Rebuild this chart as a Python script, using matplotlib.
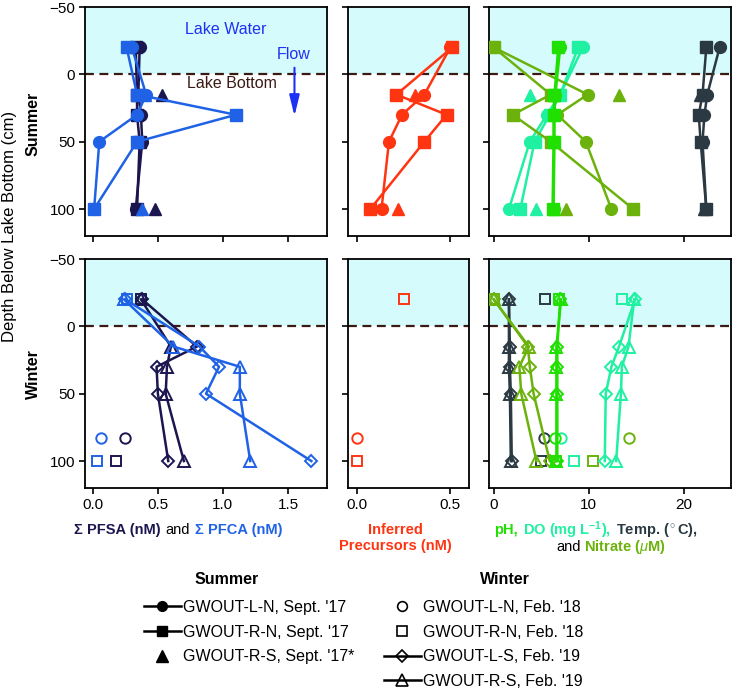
import matplotlib
matplotlib.use('Agg')
import matplotlib.pyplot as plt
from matplotlib.lines import Line2D

plt.rcParams['font.family'] = ['Liberation Sans', 'DejaVu Sans']
plt.rcParams['mathtext.fontset'] = 'custom'
plt.rcParams['mathtext.rm'] = 'Liberation Sans'
plt.rcParams['mathtext.it'] = 'Liberation Sans:italic'
plt.rcParams['mathtext.bf'] = 'Liberation Sans:bold'

# depths (cm below lake bottom; negative = in lake water)
depth_profile = [-20, 15, 30, 50, 100]
depth_summer_rs = [15, 100]
depth_winter_ln = [83]
depth_winter_rn = [-20, 100]

# ---- Summer (Sept. '17) ----
pfsa_s_ln = [0.36, 0.35, 0.37, 0.38, 0.33]
pfsa_s_rn = [0.33, 0.34, 0.34, 0.36, 0.34]
pfsa_s_rs = [0.53, 0.48]
pfca_s_ln = [0.30, 0.41, 0.34, 0.05, 0.01]
pfca_s_rn = [0.26, 0.34, 1.10, 0.34, 0.01]
pfca_s_rs = [0.40, 0.38]
prec_s_ln = [0.50, 0.36, 0.24, 0.17, 0.13]
prec_s_rn = [0.51, 0.21, 0.48, 0.36, 0.07]
prec_s_rs = [0.31, 0.22]
ph_s_ln = [7.0, 6.5, 6.4, 6.4, 6.3]
ph_s_rn = [6.8, 6.4, 6.3, 6.3, 6.2]
ph_s_rs = [6.3, 6.4]
do_s_ln = [9.4, 7.0, 5.6, 3.8, 1.6]
do_s_rn = [8.9, 7.0, 5.9, 4.3, 2.8]
do_s_rs = [3.8, 4.5]
no3_s_ln = [0.0, 9.9, 6.7, 9.7, 12.4]
no3_s_rn = [0.0, 6.0, 2.0, 6.0, 14.7]
no3_s_rs = [13.2, 7.6]
temp_s_ln = [23.8, 22.5, 22.2, 22.0, 22.4]
temp_s_rn = [22.4, 22.0, 21.6, 21.8, 22.4]
temp_s_rs = [21.7, 22.2]

# ---- Winter (Feb. '18 and Feb. '19) ----
pfsa_w_ls = [0.38, 0.80, 0.49, 0.50, 0.58]
pfsa_w_rs = [0.37, 0.60, 0.57, 0.56, 0.70]
pfsa_w_ln = [0.25]
pfsa_w_rn = [0.37, 0.18]
pfca_w_ls = [0.25, 0.82, 0.97, 0.87, 1.68]
pfca_w_rs = [0.24, 0.62, 1.13, 1.13, 1.21]
pfca_w_ln = [0.06]
pfca_w_rn = [0.26, 0.03]
prec_w_ln = [0.0]
prec_w_rn = [0.25, 0.0]
ph_w_ls = [7.0, 6.7, 6.7, 6.7, 6.7]
ph_w_rs = [7.1, 6.6, 6.6, 6.6, 6.6]
ph_w_ln = [6.5]
ph_w_rn = [6.9, 6.6]
do_w_ls = [14.9, 13.2, 12.4, 11.8, 11.7]
do_w_rs = [14.8, 14.2, 13.5, 13.4, 12.9]
do_w_ln = [7.1]
do_w_rn = [13.5, 8.5]
no3_w_ls = [0.0, 3.6, 3.8, 4.2, 5.9]
no3_w_rs = [0.0, 3.7, 2.7, 2.9, 4.5]
no3_w_ln = [14.2]
no3_w_rn = [0.0, 10.5]
temp_w_ls = [1.6, 1.7, 1.7, 1.8, 1.9]
temp_w_rs = [1.6, 1.6, 1.6, 1.7, 1.8]
temp_w_ln = [5.3]
temp_w_rn = [5.4, 5.0]

C_PFSA = '#1b1650'
C_PFCA = '#1f62e6'
C_PREC = '#ff3512'
C_PH = '#1fe000'
C_DO = '#1ff0a2'
C_NO3 = '#6cb20c'
C_TEMP = '#2b3a42'
C_LAKE = '#d6fbfc'
C_BOTTOM = '#3c1a14'
C_TEXT_BLUE = '#1f30f5'

W, H = 734, 689
fig = plt.figure(figsize=(W / 100, H / 100), dpi=100)


def box(l, t, r, b):
    return [l / W, 1 - b / H, (r - l) / W, (b - t) / H]


cols = [(85, 327, (-0.06, 1.8), [0.0, 0.5, 1.0, 1.5], ['0.0', '0.5', '1.0', '1.5']),
        (348, 469, (-0.05, 0.6), [0.0, 0.5], ['0.0', '0.5']),
        (489, 731, (-0.5, 25), [0, 10, 20], ['0', '10', '20'])]
rows = [(7, 236), (259, 488)]

axes = []
for r, (t, b) in enumerate(rows):
    row_axes = []
    for c, (l, rr, xl, xt, xtl) in enumerate(cols):
        ax = fig.add_axes(box(l, t, rr, b))
        ax.set_xlim(*xl)
        ax.set_ylim(120, -50)
        ax.axhspan(-50, 0, color=C_LAKE, zorder=0, lw=0)
        ax.axhline(0, color=C_BOTTOM, ls=(0, (4, 2.5)), lw=1.6, zorder=1)
        ax.set_xticks(xt)
        ax.set_yticks([-50, 0, 50, 100])
        ax.tick_params(direction='out', length=4, width=1.2, labelsize=11, pad=3)
        if r == 1:
            ax.set_xticklabels(xtl)
        else:
            ax.set_xticklabels([])
        if c > 0:
            ax.set_yticklabels([])
        for s in ax.spines.values():
            s.set_linewidth(1.3)
        row_axes.append(ax)
    axes.append(row_axes)


def summer(ax, x, y, color, marker, line=True, z=3):
    ax.plot(x, y, color=color, marker=marker, ms=8.5 if marker != '^' else 9,
            lw=1.8 if line else 0, mfc=color, mec=color, zorder=z)


def winter(ax, x, y, color, marker, line=True, z=3):
    ms = {'o': 7.5, 's': 7.5, 'D': 6.5, '^': 8}[marker]
    ax.plot(x, y, color=color, marker=marker, ms=ms, lw=1.8 if line else 0,
            mfc='none', mec=color, mew=1.4, zorder=z)


# summer row
a0, a1, a2 = axes[0]
summer(a0, pfsa_s_ln, depth_profile, C_PFSA, 'o')
summer(a0, pfsa_s_rn, depth_profile, C_PFSA, 's')
summer(a0, pfsa_s_rs, depth_summer_rs, C_PFSA, '^', line=False)
summer(a0, pfca_s_ln, depth_profile, C_PFCA, 'o', z=4)
summer(a0, pfca_s_rn, depth_profile, C_PFCA, 's', z=4)
summer(a0, pfca_s_rs, depth_summer_rs, C_PFCA, '^', line=False, z=4)

summer(a1, prec_s_ln, depth_profile, C_PREC, 'o')
summer(a1, prec_s_rn, depth_profile, C_PREC, 's')
summer(a1, prec_s_rs, depth_summer_rs, C_PREC, '^', line=False)

for ln, rn, rs, col in [(temp_s_ln, temp_s_rn, temp_s_rs, C_TEMP),
                        (do_s_ln, do_s_rn, do_s_rs, C_DO),
                        (no3_s_ln, no3_s_rn, no3_s_rs, C_NO3),
                        (ph_s_ln, ph_s_rn, ph_s_rs, C_PH)]:
    summer(a2, ln, depth_profile, col, 'o')
    summer(a2, rn, depth_profile, col, 's')
    summer(a2, rs, depth_summer_rs, col, '^', line=False)

# winter row
b0, b1, b2 = axes[1]
winter(b0, pfsa_w_ls, depth_profile, C_PFSA, 'D')
winter(b0, pfsa_w_rs, depth_profile, C_PFSA, '^')
winter(b0, pfsa_w_ln, depth_winter_ln, C_PFSA, 'o', line=False)
winter(b0, pfsa_w_rn, depth_winter_rn, C_PFSA, 's', line=False)
winter(b0, pfca_w_ls, depth_profile, C_PFCA, 'D', z=4)
winter(b0, pfca_w_rs, depth_profile, C_PFCA, '^', z=4)
winter(b0, pfca_w_ln, depth_winter_ln, C_PFCA, 'o', line=False, z=4)
winter(b0, pfca_w_rn, depth_winter_rn, C_PFCA, 's', line=False, z=4)

winter(b1, prec_w_ln, depth_winter_ln, C_PREC, 'o', line=False)
winter(b1, prec_w_rn, depth_winter_rn, C_PREC, 's', line=False)

for ls, rs, ln, rn, col in [(temp_w_ls, temp_w_rs, temp_w_ln, temp_w_rn, C_TEMP),
                            (no3_w_ls, no3_w_rs, no3_w_ln, no3_w_rn, C_NO3),
                            (do_w_ls, do_w_rs, do_w_ln, do_w_rn, C_DO),
                            (ph_w_ls, ph_w_rs, ph_w_ln, ph_w_rn, C_PH)]:
    winter(b2, ls, depth_profile, col, 'D')
    winter(b2, rs, depth_profile, col, '^')
    winter(b2, ln, depth_winter_ln, col, 'o', line=False)
    winter(b2, rn, depth_winter_rn, col, 's', line=False)

# annotations in the summer PFAS panel
a0.text(1.02, -33, 'Lake Water', color=C_TEXT_BLUE, fontsize=11.5, ha='center', va='center')
a0.text(1.07, 7, 'Lake Bottom', color=C_BOTTOM, fontsize=11.5, ha='center', va='center')
a0.text(1.54, -15, 'Flow', color=C_TEXT_BLUE, fontsize=11.5, ha='center', va='center', clip_on=False)
a0.annotate('', xy=(1.55, 33), xytext=(1.55, -7),
            arrowprops=dict(arrowstyle='-|>,head_width=0.22,head_length=0.9',
                            color=C_TEXT_BLUE, lw=1.5, mutation_scale=14))

# axis titles
fig.text(10 / W, 1 - 226 / H, 'Depth Below Lake Bottom (cm)', rotation=90,
         ha='center', va='center', fontsize=12)
fig.text(33 / W, 1 - 124 / H, 'Summer', rotation=90, ha='center', va='center',
         fontsize=11.5, fontweight='bold')
fig.text(33 / W, 1 - 374 / H, 'Winter', rotation=90, ha='center', va='center',
         fontsize=11.5, fontweight='bold')

renderer = fig.canvas.get_renderer()


def chain(pieces, x0, y, gap=5, size=10.5):
    """Place coloured text pieces one after another on a line (pixel coords)."""
    x = x0
    for s, color, bold in pieces:
        t = fig.text(x / W, 1 - y / H, s, color=color, fontsize=size, ha='left', va='center',
                     fontweight='bold' if bold else 'normal')
        x = t.get_window_extent(renderer).x1 + gap


chain([('Σ PFSA (nM)', C_PFSA, True), ('and', 'black', False), ('Σ PFCA (nM)', C_PFCA, True)],
      74, 530)
fig.text(395 / W, 1 - 538 / H, 'Inferred\nPrecursors (nM)', color=C_PREC, fontsize=10.5,
         ha='center', va='center', fontweight='bold', linespacing=1.15)
chain([('pH,', C_PH, True), (r'DO (mg L$^{\mathbf{-1}}$),', C_DO, True),
       (r'Temp. ($^\circ$C),', C_TEMP, True)], 494, 530, gap=5)
chain([('and', 'black', False), (r'Nitrate ($\mu$M)', C_NO3, True)], 556, 547, gap=3)

# legends
fig.text(227 / W, 1 - 580 / H, 'Summer', fontsize=11.5, fontweight='bold', ha='center', va='center')
fig.text(505 / W, 1 - 580 / H, 'Winter', fontsize=11.5, fontweight='bold', ha='center', va='center')

summer_handles = [
    Line2D([], [], color='black', marker='o', ms=7, lw=1.8),
    Line2D([], [], color='black', marker='s', ms=7, lw=1.8),
    Line2D([], [], color='black', marker='^', ms=8, lw=0),
]
summer_labels = ["GWOUT-L-N, Sept. '17", "GWOUT-R-N, Sept. '17", "GWOUT-R-S, Sept. '17*"]
winter_handles = [
    Line2D([], [], color='black', marker='o', ms=7, lw=0, mfc='none', mew=1.2),
    Line2D([], [], color='black', marker='s', ms=7, lw=0, mfc='none', mew=1.2),
    Line2D([], [], color='black', marker='D', ms=6.5, lw=1.8, mfc='none', mew=1.2),
    Line2D([], [], color='black', marker='^', ms=8, lw=1.8, mfc='none', mew=1.2),
]
winter_labels = ["GWOUT-L-N, Feb. '18", "GWOUT-R-N, Feb. '18", "GWOUT-L-S, Feb. '19", "GWOUT-R-S, Feb. '19"]

leg_kw = dict(loc='upper left', frameon=False, borderpad=0, borderaxespad=0,
              handlelength=2.3, handletextpad=0.15, labelspacing=0.6, fontsize=11.5)
fig.legend(summer_handles, summer_labels, bbox_to_anchor=(144 / W, 1 - 600 / H), **leg_kw)
fig.legend(winter_handles, winter_labels, bbox_to_anchor=(384 / W, 1 - 600 / H), **leg_kw)

fig.savefig('out.png', dpi=100)
